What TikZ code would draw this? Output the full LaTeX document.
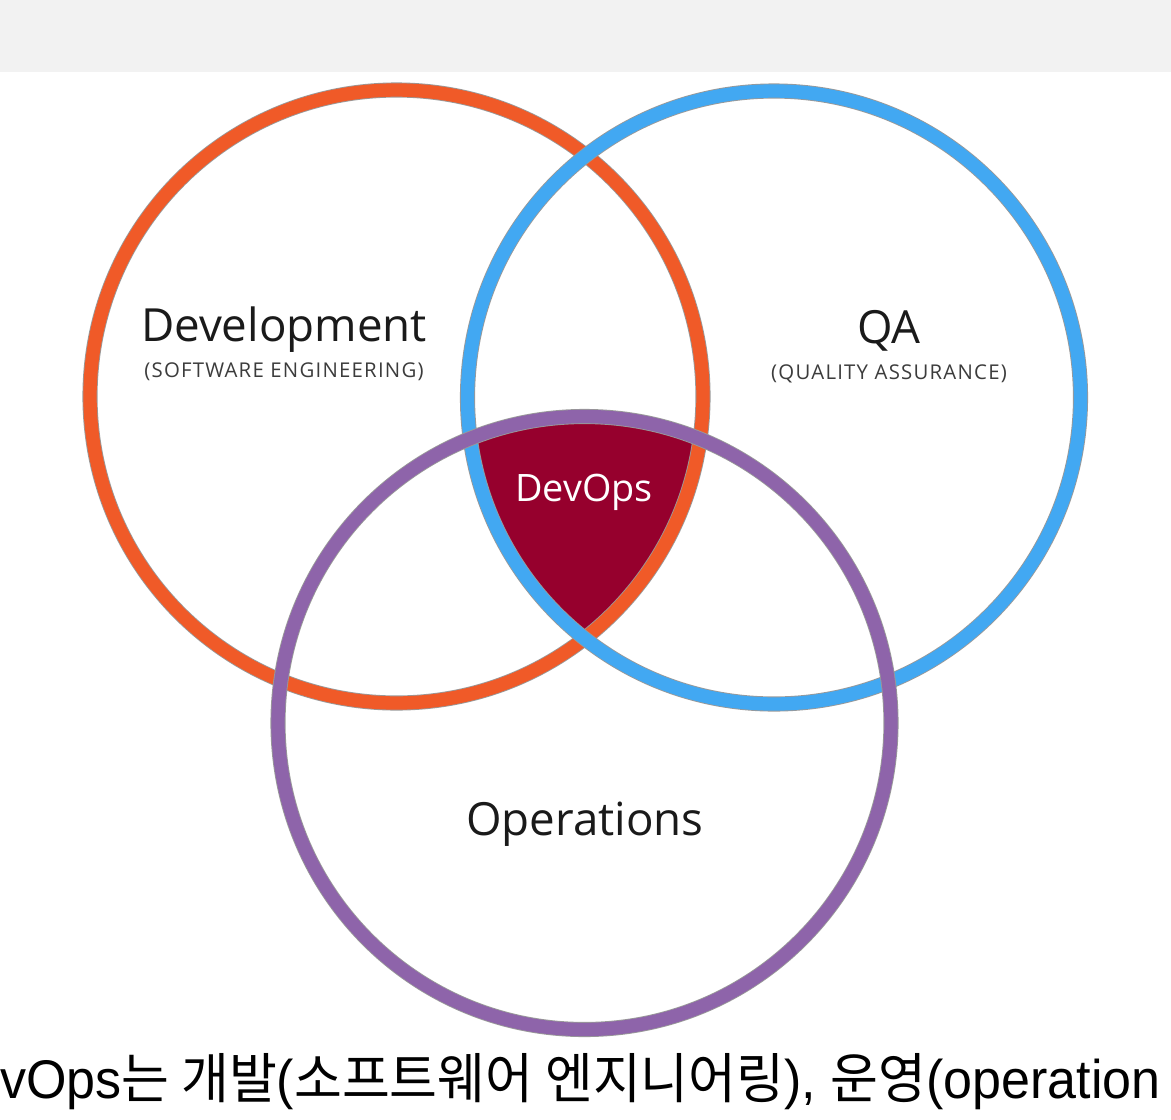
\documentclass[tikz,border=0pt]{standalone}
\usepackage{fontspec}
\setmainfont{Open Sans}
\newfontfamily\captionfont{Liberation Sans}
\newfontfamily\kr{Noto Sans CJK KR}
\definecolor{dev-orange}{HTML}{F05A28}
\definecolor{qa-blue}{HTML}{42A8F2}
\definecolor{ops-purple}{HTML}{8E64AA}
\definecolor{devops-red}{HTML}{96002D}
\definecolor{band-gray}{HTML}{F2F2F2}
\definecolor{label-dark}{HTML}{1A1A1A}
\definecolor{label-gray}{HTML}{3C3C3C}

\tikzset{
  ringedge/.style={draw=black!40, line width=8.6pt},
  ring/.style={draw=#1, line width=7.6pt},
  title/.style={font=\fontsize{26}{30}\selectfont, text=label-dark},
  subtitle/.style={font=\addfontfeature{LetterSpace=6}\fontsize{11.6}{14}\selectfont, text=label-gray},
}

\begin{document}
\begin{tikzpicture}[x=0.02cm, y=-0.02cm]
    \clip (0,0) rectangle (1171,1120);
    \fill[band-gray] (0,0) rectangle (1171,72);
    \coordinate (dev) at (396.5,396.5);
    \coordinate (qa) at (774,397.5);
    \coordinate (ops) at (584.5,723);
    % the common part of all three
    \begin{scope}
      \clip (dev) circle (306.5);
      \clip (qa) circle (306.5);
      \fill[devops-red] (ops) circle (306.5);
    \end{scope}
    % rings, purple on top
    \draw[ringedge] (dev) circle (306.5);
    \draw[ring=dev-orange] (dev) circle (306.5);
    \draw[ringedge] (qa) circle (306.5);
    \draw[ring=qa-blue] (qa) circle (306.5);
    \draw[ringedge] (ops) circle (306.5);
    \draw[ring=ops-purple] (ops) circle (306.5);
    % labels
    \node[title] (devtitle) at (284,330) {Development};
    \node[subtitle] (devsub) at (284,372) {(SOFTWARE ENGINEERING)};
    \node[title] (qatitle) at (889,331) {QA};
    \node[subtitle] (qasub) at (889,374) {(QUALITY ASSURANCE)};
    \node[title, font=\fontsize{21.5}{24}\selectfont, text=white] (devops) at (584,492) {DevOps};
    \node[title] (opstitle) at (585,824) {Operations};
    \node[anchor=base west, inner sep=0pt, xscale=0.955,
          font=\captionfont\fontsize{31}{34}\selectfont]
      (caption) at (0,1098)
      {vOps{\kr 는 개발}({\kr 소프트웨어 엔지니어링}), {\kr 운영}(operation};
\end{tikzpicture}
\end{document}
